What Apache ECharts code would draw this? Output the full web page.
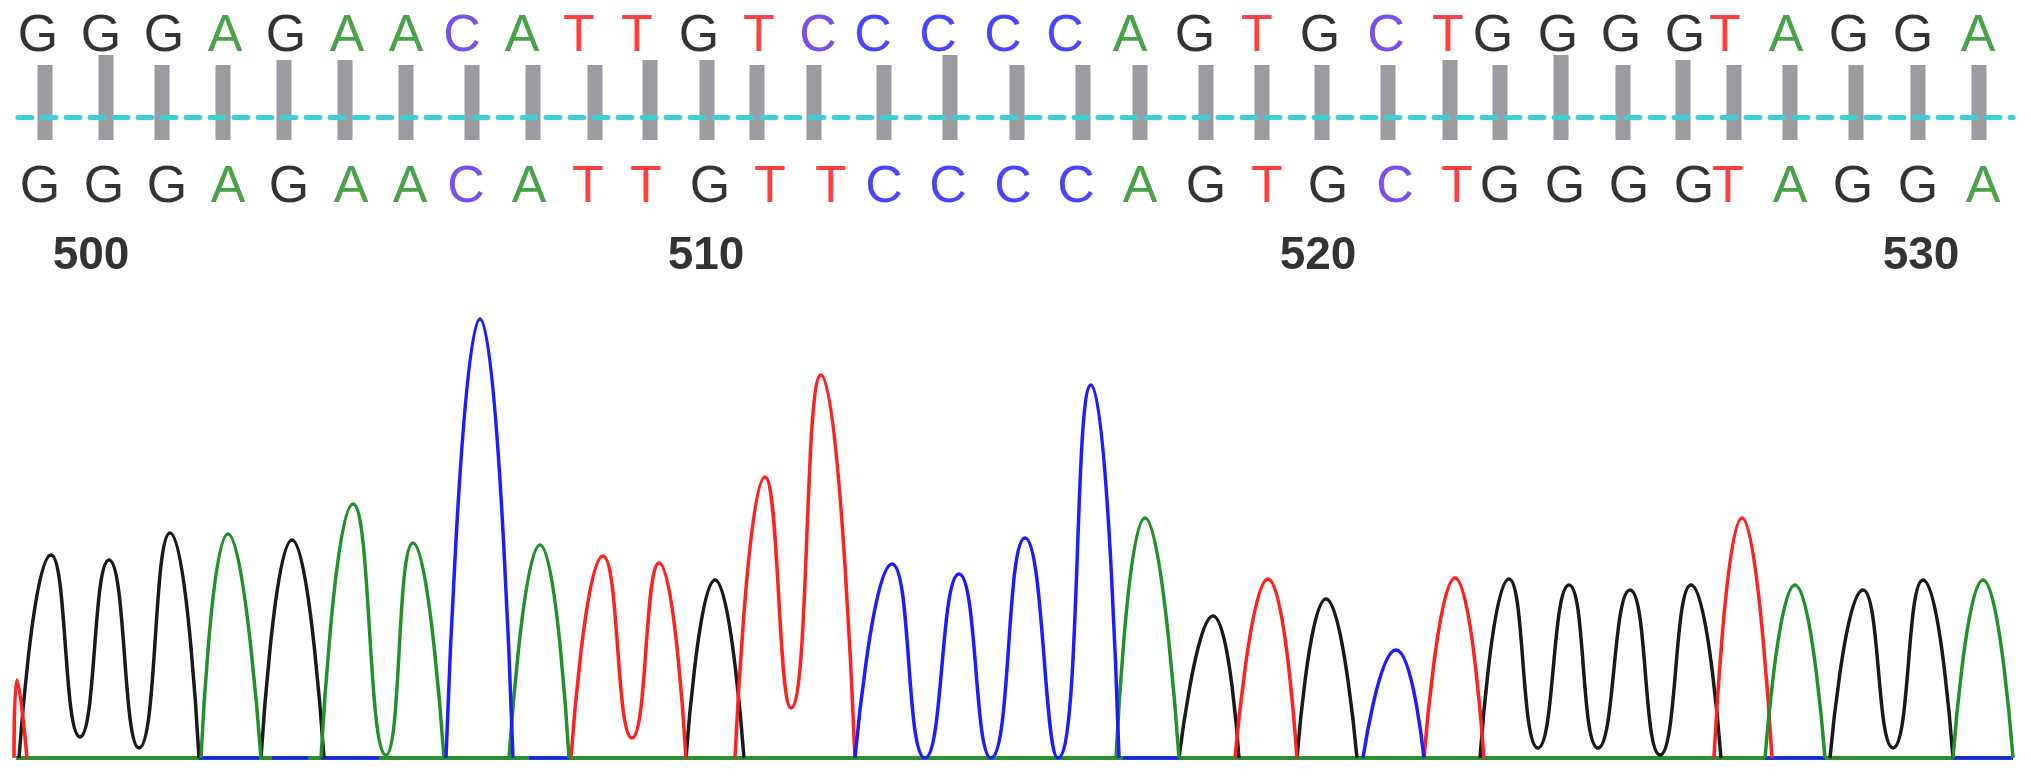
<!DOCTYPE html>
<html>
<head>
<meta charset="utf-8">
<script src="https://cdn.jsdelivr.net/npm/echarts@6/dist/echarts.min.js"></script>
<style>
  html, body { margin: 0; padding: 0; background: #fff; }
  #chart { width: 2031px; height: 777px; }
</style>
</head>
<body>
<div id="chart"></div>
<script>
// reference sequence (top row) and its positions along the trace
const topBases = 'GGGAGAACATTGTCCCCCAGTGCTGGGGTAGGA'.split('');
const topPos = [38, 101, 164, 225, 286, 347, 406, 462, 522, 579, 637, 699, 759, 818, 873, 938, 1003, 1065, 1130, 1195,
  1257, 1320, 1386, 1448, 1493, 1558, 1621, 1685, 1725, 1786, 1849, 1913, 1978];
const topPurple = [7, 13, 22];

// base calls (bottom row)
const callBases = 'GGGAGAACATTGTTCCCCAGTGCTGGGGTAGGA'.split('');
const callPos = [40, 104, 167, 228, 289, 351, 410, 466, 529, 588, 646, 710, 770, 831, 884, 948, 1013, 1076, 1140, 1206,
  1267, 1328, 1395, 1457, 1500, 1565, 1629, 1694, 1728, 1790, 1853, 1918, 1983];
const callPurple = [7, 22];

// quality bars
const barPos = [45, 106, 162, 223, 284, 345, 406, 472, 533, 595, 650, 707, 757, 814, 884, 950, 1017, 1083, 1140, 1206,
  1262, 1322, 1388, 1450, 1500, 1561, 1623, 1683, 1734, 1790, 1856, 1918, 1979];
const barQual = [75, 85, 75, 75, 80, 80, 75, 75, 75, 75, 80, 80, 75, 75, 75, 85, 75, 75, 75, 75,
  75, 75, 75, 80, 75, 85, 75, 80, 75, 75, 75, 75, 75];

// position ruler
const rulerText = ['500', '510', '520', '530'];
const rulerPos = [91, 706, 1318, 1921];

// trace peaks per channel: [scan, signal], one array per run of touching peaks
const traceG = [
  [[19, 0], [51, 203], [80, 21], [109, 198], [139, 10], [170, 225], [199, 0]],
  [[261, 0], [292, 218], [324, 0]],
  [[686, 0], [715, 178], [744, 0]],
  [[1179, 0], [1213, 142], [1239, 0]],
  [[1297, 0], [1326, 159], [1357, 0]],
  [[1480, 0], [1509, 179], [1538, 10], [1569, 173], [1598, 10], [1630, 168], [1660, 3], [1691, 173], [1721, 0]],
  [[1830, 0], [1863, 168], [1893, 10], [1923, 178], [1953, 0]]
];
const traceA = [
  [[201, 0], [228, 224], [261, 0]],
  [[321, 0], [353, 254], [386, 3], [413, 215], [444, 0]],
  [[509, 0], [540, 213], [569, 0]],
  [[1116, 0], [1145, 240], [1179, 0]],
  [[1765, 0], [1795, 173], [1825, 0]],
  [[1953, 0], [1983, 178], [2013, 0]]
];
const traceC = [
  [[446, 0], [480, 439], [513, 0]],
  [[855, 0], [892, 194], [925, 0], [959, 184], [991, 0], [1025, 220], [1058, 0], [1091, 373], [1119, 0]],
  [[1363, 0], [1396, 108], [1424, 0]]
];
const noiseC = [
  [[199, 0], [259, 0]], [[272, 0], [308, 0]], [[321, 0], [379, 0]], [[529, 0], [569, 0]],
  [[1123, 0], [1179, 0]], [[1765, 0], [1825, 0]], [[1953, 0], [2013, 0]]
];
const traceT = [
  [[14, 0], [17, 78], [27, 0]],
  [[571, 0], [603, 202], [632, 20], [659, 195], [686, 0]],
  [[735, 0], [765, 281], [791, 50], [821, 383], [855, 0]],
  [[1235, 0], [1268, 179], [1297, 0]],
  [[1424, 0], [1455, 180], [1484, 0]],
  [[1714, 0], [1742, 240], [1772, 0]]
];
const baseline = [[16, 0], [2013, 0]];

const baseColor = { G: '#000000', A: '#1c8a1c', T: '#ff1010', C: '#1818ff' };
const purple = '#5a22ea';
const FONT = '"Liberation Sans", Arial, sans-serif';

const joinRuns = runs => {
  const out = [];
  runs.forEach((r, i) => {
    if (i) out.push(null);
    r.forEach(p => out.push(p));
  });
  return out;
};

const letterSeries = (bases, pos, purpleIdx, grid) => ({
  type: 'scatter',
  xAxisIndex: grid,
  yAxisIndex: grid,
  symbolSize: 1,
  silent: true,
  itemStyle: { color: 'rgba(0,0,0,0)' },
  label: {
    show: true,
    position: 'inside',
    fontSize: 52,
    fontFamily: FONT,
    formatter: p => p.name
  },
  data: bases.map((b, i) => ({
    name: b,
    value: [pos[i], 0],
    label: { color: purpleIdx.includes(i) ? purple : baseColor[b] }
  }))
});

const traceSeries = (runs, color, z) => ({
  type: 'line',
  xAxisIndex: 5,
  yAxisIndex: 5,
  data: joinRuns(runs),
  smooth: 0.55,
  symbol: 'none',
  silent: true,
  z: z,
  lineStyle: { color: color, width: 3.5 }
});

const hiddenX = { type: 'value', min: 0, max: 2031, show: false };
const rowY = { type: 'value', min: -1, max: 1, show: false };

const option = {
  animation: false,
  backgroundColor: '#fff',
  grid: [
    { left: 0, right: 0, top: 18, height: 38 },   // top letters
    { left: 0, right: 0, top: 40, height: 100 },  // quality bars
    { left: 18, right: 18, top: 116, height: 1 }, // dashed reference line
    { left: 0, right: 0, top: 169, height: 38 },  // called letters
    { left: 0, right: 0, top: 238, height: 36 },  // ruler
    { left: 0, right: 0, top: 258, bottom: 19 }   // trace
  ],
  xAxis: [
    Object.assign({ gridIndex: 0 }, hiddenX),
    Object.assign({ gridIndex: 1 }, hiddenX),
    {
      gridIndex: 2, type: 'value', min: 0, max: 1, z: 10,
      axisLine: { show: true, lineStyle: { color: '#3ccfd6', width: 5, type: [14, 10] } },
      axisTick: { show: false }, axisLabel: { show: false }, splitLine: { show: false }
    },
    Object.assign({ gridIndex: 3 }, hiddenX),
    Object.assign({ gridIndex: 4 }, hiddenX),
    Object.assign({ gridIndex: 5 }, hiddenX)
  ],
  yAxis: [
    Object.assign({ gridIndex: 0 }, rowY),
    { gridIndex: 1, type: 'value', min: 0, max: 100, show: false },
    { gridIndex: 2, type: 'value', show: false },
    Object.assign({ gridIndex: 3 }, rowY),
    Object.assign({ gridIndex: 4 }, rowY),
    { gridIndex: 5, type: 'value', min: 0, max: 500, show: false }
  ],
  series: [
    letterSeries(topBases, topPos, topPurple, 0),
    {
      type: 'bar',
      xAxisIndex: 1,
      yAxisIndex: 1,
      barWidth: 15,
      silent: true,
      itemStyle: { color: '#9b9ba0' },
      data: barPos.map((x, i) => [x, barQual[i]])
    },
    letterSeries(callBases, callPos, callPurple, 3),
    {
      type: 'scatter',
      xAxisIndex: 4,
      yAxisIndex: 4,
      symbolSize: 1,
      silent: true,
      itemStyle: { color: 'rgba(0,0,0,0)' },
      label: {
        show: true, position: 'inside', fontSize: 46, fontWeight: 'bold',
        fontFamily: FONT, color: '#000', formatter: p => p.name
      },
      data: rulerText.map((t, i) => ({ name: t, value: [rulerPos[i], 0] }))
    },
    {
      type: 'line', xAxisIndex: 5, yAxisIndex: 5, data: baseline, symbol: 'none',
      silent: true, z: 1, lineStyle: { color: '#2f8f2f', width: 4 }
    },
    traceSeries(noiseC, '#1c1cff', 2),
    traceSeries(traceG, '#1a1a1a', 3),
    traceSeries(traceT, '#ff2020', 3),
    traceSeries(traceA, '#23912a', 3),
    traceSeries(traceC, '#1c1cff', 3)
  ]
};

const chart = echarts.init(document.getElementById('chart'));
chart.setOption(option);
</script>
</body>
</html>
